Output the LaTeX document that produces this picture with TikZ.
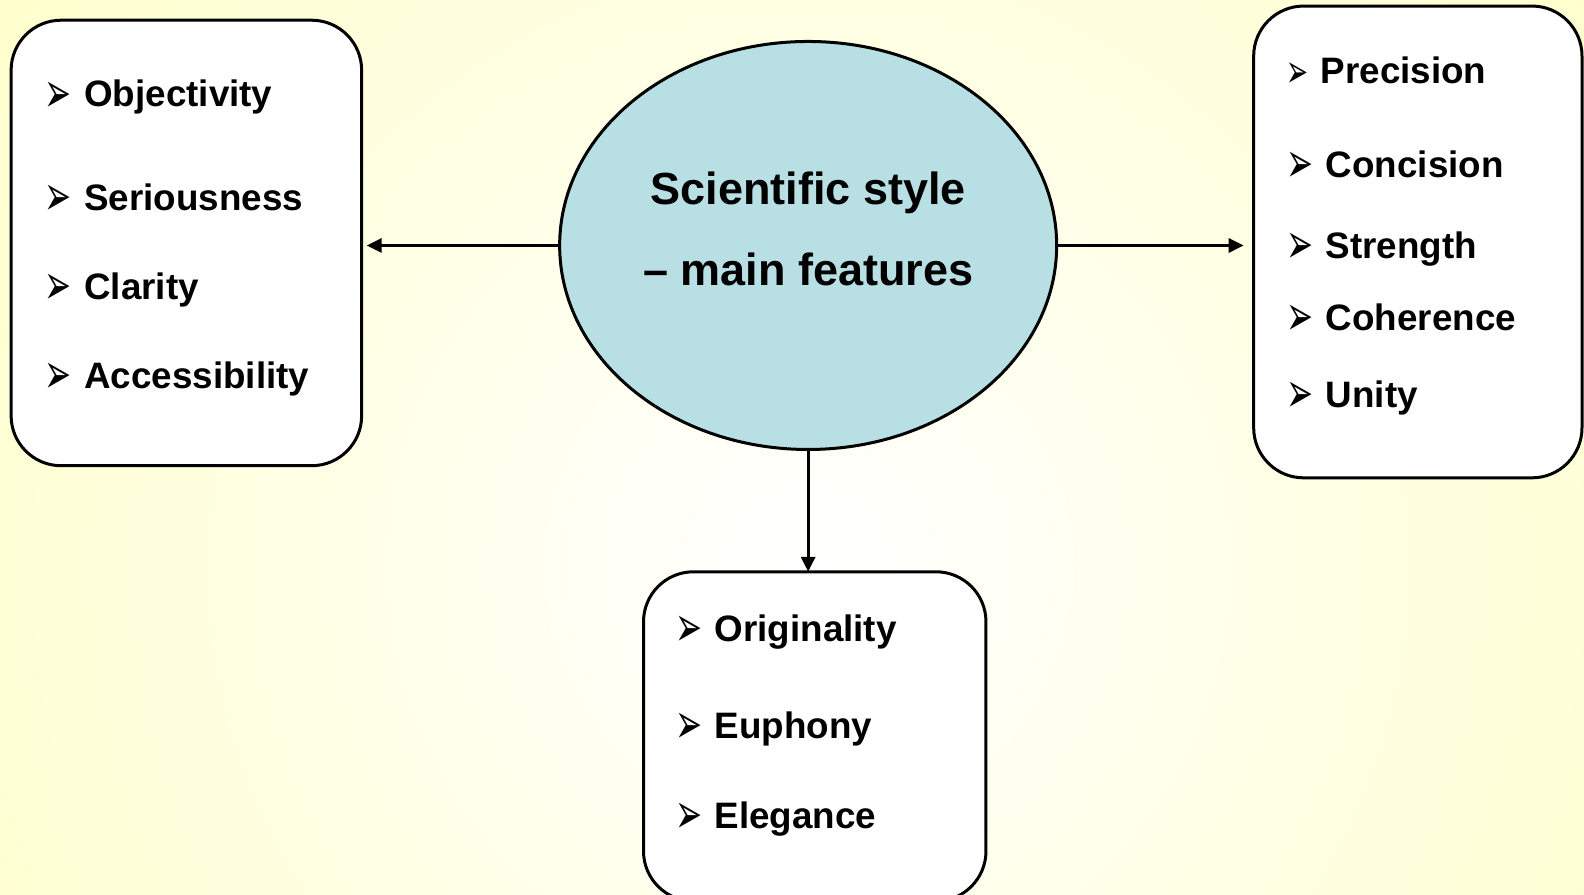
\documentclass[tikz,border=0pt]{standalone}
\usepackage{fontspec}
\setmainfont{Liberation Sans}
\newfontfamily\bulfont{DejaVu Sans}
\usetikzlibrary{arrows.meta,shapes.geometric}
\definecolor{bgyellow}{RGB}{255,255,196}
\definecolor{ellfill}{RGB}{184,223,227}
\newcommand{\arrowbul}{\scalebox{0.85}[1.5]{➢}}
\tikzset{
  featbox/.style={draw=black,line width=1.5pt,fill=white,rounded corners=25pt},
  feat/.style={anchor=base west,inner sep=0pt,font=\fontsize{18.4}{20}\selectfont\bfseries},
  bullet/.style={anchor=west,inner sep=0pt,xshift=-1.5pt,yshift=-1.5pt,font=\bulfont\fontsize{19}{19}\selectfont},
  smallbullet/.style={bullet,font=\bulfont\fontsize{15.5}{16}\selectfont},
  conn/.style={line width=1.5pt,-{Triangle[length=7.5pt,width=7pt]}},
  title/.style={anchor=base,inner sep=0pt,font=\fontsize{22.5}{26}\selectfont\bfseries}
}
\begin{document}
\begin{tikzpicture}[x=0.50510pt,y=-0.50510pt]
\useasboundingbox (0,0) rectangle (1568,885);
\fill[bgyellow] (0,0) rectangle (1568,885);
\begin{scope}
\clip (0,0) rectangle (1568,885);
\shade[inner color=white,outer color=bgyellow] (800,560) circle (1150);
\end{scope}
% boxes
\draw[featbox] (11,20) rectangle (358,461);
\node[coordinate] (lbox) at (358,243) {};
\draw[featbox] (1241,6) rectangle (1566,473);
\node[coordinate] (rbox) at (1241,243) {};
\draw[featbox] (637,566) rectangle (976,892);
\node[coordinate] (bbox) at (800,566) {};
% ellipse
\node[ellipse,draw=black,line width=1.5pt,fill=ellfill,minimum width=248.5pt,minimum height=204pt,inner sep=0pt] (ell) at (800,243) {};
\node[title] (t1) at (800,202) {Scientific style};
\node[title] (t2) at (800,283) {– main features};
% connectors
\draw[conn] (ell.west) -- ([xshift=2.5pt]lbox);
\draw[conn] (ell.east) -- ([xshift=-5pt]rbox);
\draw[conn] (ell.south) -- (bbox);
% left items
\node[bullet] (lb1) at (47,93) {\arrowbul};
\node[feat] (l1) at (83,105) {Objectivity};
\node[bullet] (lb2) at (47,195) {\arrowbul};
\node[feat] (l2) at (83,208) {Seriousness};
\node[bullet] (lb3) at (47,283) {\arrowbul};
\node[feat] (l3) at (83,296) {Clarity};
\node[bullet] (lb4) at (47,372) {\arrowbul};
\node[feat] (l4) at (83,385) {Accessibility};
% right items
\node[smallbullet] (rb1) at (1276,71) {\arrowbul};
\node[feat] (r1) at (1307,83) {Precision};
\node[bullet] (rb2) at (1276,163) {\arrowbul};
\node[feat] (r2) at (1312,176) {Concision};
\node[bullet] (rb3) at (1276,243) {\arrowbul};
\node[feat] (r3) at (1312,256) {Strength};
\node[bullet] (rb4) at (1276,314) {\arrowbul};
\node[feat] (r4) at (1312,327) {Coherence};
\node[bullet] (rb5) at (1276,390) {\arrowbul};
\node[feat] (r5) at (1312,403) {Unity};
% bottom items
\node[bullet] (bb1) at (671,622) {\arrowbul};
\node[feat] (b1) at (707,635) {Originality};
\node[bullet] (bb2) at (671,718) {\arrowbul};
\node[feat] (b2) at (707,731) {Euphony};
\node[bullet] (bb3) at (671,807) {\arrowbul};
\node[feat] (b3) at (707,820) {Elegance};
\end{tikzpicture}
\end{document}
